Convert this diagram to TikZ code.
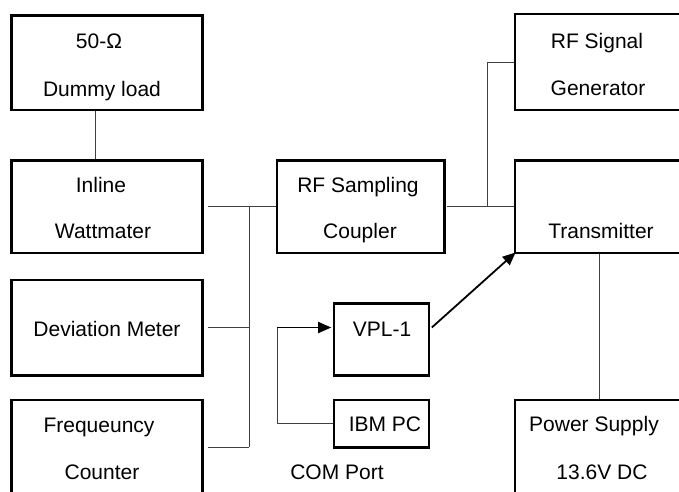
\documentclass[tikz,border=0pt]{standalone}
\usepackage{fontspec}
\setmainfont{Liberation Sans}
\usetikzlibrary{arrows.meta}
\tikzset{
  blk/.style={draw=black, line width=2.8pt, rectangle, inner sep=0pt},
  txt/.style={anchor=base, inner sep=0pt, font=\fontsize{21}{25}\selectfont},
  wire/.style={draw=black!75, line width=1pt},
  arr/.style={draw=black, line width=1.8pt, -{Triangle[length=13pt,width=11pt]}},
}
\begin{document}
\begin{tikzpicture}[x=1pt,y=-1pt]
\useasboundingbox (0,0) rectangle (679,491);
\clip (0,0) rectangle (679,491);
% boxes
\node[blk, minimum width=191pt, minimum height=94.5pt] (dummy) at (107,62.75) {};
\node[blk, minimum width=191pt, minimum height=92.5pt] (inline) at (107,206.75) {};
\node[blk, minimum width=191pt, minimum height=95.5pt] (dev) at (107,327.75) {};
\node[blk, minimum width=191pt, minimum height=94pt] (freq) at (107,447) {};
\node[blk, minimum width=167.5pt, minimum height=92.5pt] (coupler) at (360.75,206.75) {};
\node[blk, minimum width=191pt, minimum height=96pt] (siggen) at (610.5,62) {};
\node[blk, minimum width=191pt, minimum height=92.5pt] (tx) at (610.5,206.75) {};
\node[blk, minimum width=95pt, minimum height=71.8pt] (vpl) at (381.5,339.6) {};
\node[blk, minimum width=95pt, minimum height=47.5pt] (ibm) at (381.5,423.75) {};
\node[blk, minimum width=191pt, minimum height=94pt] (ps) at (610.5,447) {};
% texts
\node[txt] (t1) at (99,48) {50-Ω};
\node[txt] (t2) at (102,96) {Dummy load};
\node[txt] (t3) at (101,192) {Inline};
\node[txt] (t4) at (103,238) {Wattmater};
\node[txt] (t5) at (107,336) {Deviation Meter};
\node[txt] (t6) at (99,432) {Frequeuncy};
\node[txt] (t7) at (102,479) {Counter};
\node[txt] (t8) at (358,192) {RF Sampling};
\node[txt] (t9) at (360,238) {Coupler};
\node[txt] (t10) at (597,48) {RF Signal};
\node[txt] (t11) at (598,95) {Generator};
\node[txt] (t12) at (601,238) {Transmitter};
\node[txt] (t13) at (382,336) {VPL-1};
\node[txt] (t14) at (385,431) {IBM PC};
\node[txt] (t15) at (337,479) {COM Port};
\node[txt] (t16) at (594,431) {Power Supply};
\node[txt] (t17) at (602,479) {13.6V DC};
% helper coordinates
\coordinate (dl) at (95.3,0);
\coordinate (bus) at (249.3,0);
\coordinate (sg) at (487,0);
\coordinate (pw) at (599.3,0);
\coordinate (com) at (277,327.5);
% wires
\draw[wire] (dummy.south -| dl) -- (inline.north -| dl);
\draw[wire] ([xshift=4.5pt]inline.east) -- (coupler.west);
\draw[wire] (bus |- inline.east) -- (bus |- freq.east);
\draw[wire] ([xshift=4.5pt]dev.east) -- (dev.east -| bus);
\draw[wire] ([xshift=4.5pt]freq.east) -- (freq.east -| bus);
\draw[wire] ([xshift=1.5pt]coupler.east) -- (tx.west);
\draw[wire] (coupler.east -| sg) -- (sg |- siggen.west) -- (siggen.west);
\draw[wire] (tx.south -| pw) -- (ps.north -| pw);
\draw[wire] (com) -- (com |- ibm.west) -- (ibm.west);
% arrows
\draw[arr] (com) -- ([xshift=-1.4pt]com -| vpl.west);
\draw[arr] ([xshift=1.4pt]vpl.east |- com) -- ([shift={(2pt,2pt)}]tx.south west);
\end{tikzpicture}
\end{document}
